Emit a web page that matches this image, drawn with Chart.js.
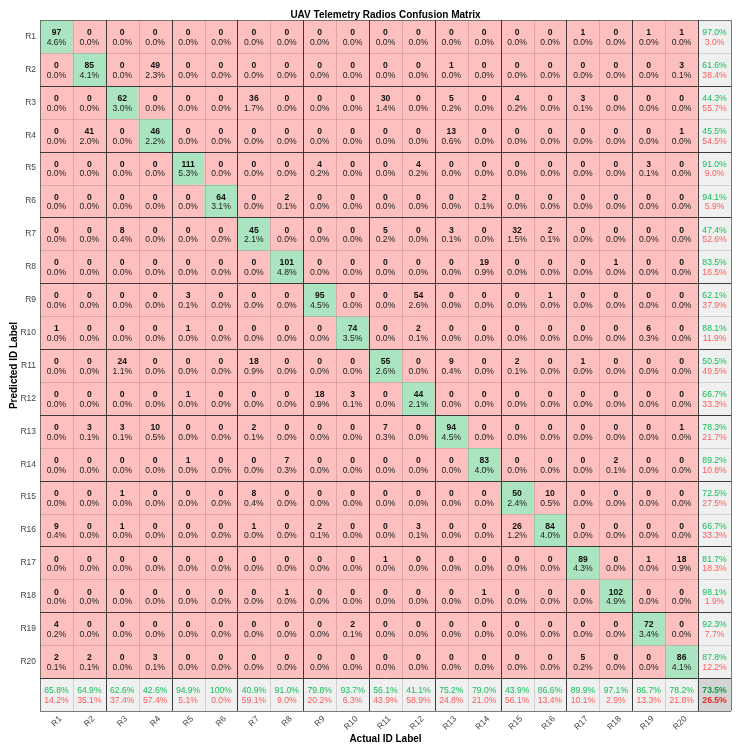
<!DOCTYPE html>
<html>
<head>
<meta charset="utf-8">
<script src="https://cdn.jsdelivr.net/npm/chart.js@4.4.1/dist/chart.umd.min.js"></script>
<style>
html,body{margin:0;padding:0;background:#fff;}
#wrap{width:738px;height:752px;}
</style>
</head>
<body>
<div id="wrap"><canvas id="c" width="738" height="752"></canvas></div>
<script>
// ---- data ----
const titleText = 'UAV Telemetry Radios Confusion Matrix';
const xTitleText = 'Actual ID Label';
const yTitleText = 'Predicted ID Label';
const actualLabels = ['R1','R2','R3','R4','R5','R6','R7','R8','R9','R10','R11','R12','R13','R14','R15','R16','R17','R18','R19','R20'];
const predictedLabels = ['R1','R2','R3','R4','R5','R6','R7','R8','R9','R10','R11','R12','R13','R14','R15','R16','R17','R18','R19','R20'];
// rows = predicted class, columns = actual class
const counts = [
  [97,0,0,0,0,0,0,0,0,0,0,0,0,0,0,0,1,0,1,1],
  [0,85,0,49,0,0,0,0,0,0,0,0,1,0,0,0,0,0,0,3],
  [0,0,62,0,0,0,36,0,0,0,30,0,5,0,4,0,3,0,0,0],
  [0,41,0,46,0,0,0,0,0,0,0,0,13,0,0,0,0,0,0,1],
  [0,0,0,0,111,0,0,0,4,0,0,4,0,0,0,0,0,0,3,0],
  [0,0,0,0,0,64,0,2,0,0,0,0,0,2,0,0,0,0,0,0],
  [0,0,8,0,0,0,45,0,0,0,5,0,3,0,32,2,0,0,0,0],
  [0,0,0,0,0,0,0,101,0,0,0,0,0,19,0,0,0,1,0,0],
  [0,0,0,0,3,0,0,0,95,0,0,54,0,0,0,1,0,0,0,0],
  [1,0,0,0,1,0,0,0,0,74,0,2,0,0,0,0,0,0,6,0],
  [0,0,24,0,0,0,18,0,0,0,55,0,9,0,2,0,1,0,0,0],
  [0,0,0,0,1,0,0,0,18,3,0,44,0,0,0,0,0,0,0,0],
  [0,3,3,10,0,0,2,0,0,0,7,0,94,0,0,0,0,0,0,1],
  [0,0,0,0,1,0,0,7,0,0,0,0,0,83,0,0,0,2,0,0],
  [0,0,1,0,0,0,8,0,0,0,0,0,0,0,50,10,0,0,0,0],
  [9,0,1,0,0,0,1,0,2,0,0,3,0,0,26,84,0,0,0,0],
  [0,0,0,0,0,0,0,0,0,0,1,0,0,0,0,0,89,0,1,18],
  [0,0,0,0,0,0,0,1,0,0,0,0,0,1,0,0,0,102,0,0],
  [4,0,0,0,0,0,0,0,0,2,0,0,0,0,0,0,0,0,72,0],
  [2,2,0,3,0,0,0,0,0,0,0,0,0,0,0,0,5,0,0,86]
];

// ---- styling ----
const FONT = '"Liberation Sans", Arial, Helvetica, sans-serif';
const C_GREEN = '#abe4c0';
const C_RED = '#fdc0bf';
const C_GREY = '#f0f0f0';
const C_CORNER = '#d4d4d4';
const T_GREEN = '#14c058';
const T_RED = '#ff5a5a';

const N = actualLabels.length;
const total = counts.reduce((s, row) => s + row.reduce((a, b) => a + b, 0), 0);
const rowTot = counts.map(row => row.reduce((a, b) => a + b, 0));
const colTot = actualLabels.map((_, c) => counts.reduce((s, row) => s + row[c], 0));
const diagTot = counts.reduce((s, row, i) => s + row[i], 0);

function fmtPct(v) {
  if (Math.abs(v - 100) < 1e-9) return '100%';
  return v.toFixed(1) + '%';
}
function cellColor(r, c) {
  if (r < N && c < N) return r === c ? C_GREEN : C_RED;
  if (r === N && c === N) return C_CORNER;
  return C_GREY;
}

Chart.defaults.font.family = FONT;

const datasets = [];
for (let r = 0; r <= N; r++) {
  const data = [];
  for (let c = 0; c <= N; c++) data.push([r + 0.5, r + 1.5]);
  datasets.push({
    label: r < N ? predictedLabels[r] : 'Summary',
    data,
    grouped: false,
    barPercentage: 1,
    categoryPercentage: 1,
    borderWidth: 0,
    backgroundColor: ctx => cellColor(ctx.datasetIndex, ctx.dataIndex)
  });
}

const cellText = {
  id: 'cellText',
  afterDatasetsDraw(chart) {
    const {ctx, scales: {x: xs, y: ys}} = chart;
    const cw = xs.getPixelForValue(1) - xs.getPixelForValue(0);
    const x0 = xs.getPixelForValue(0) - cw / 2;
    const xEdge = k => x0 + k * cw;
    const yEdge = k => ys.getPixelForValue(k + 0.5);
    ctx.save();
    // grid lines
    const top = yEdge(0), bot = yEdge(N + 1), left = xEdge(0), right = xEdge(N + 1);
    for (let k = 0; k <= N + 1; k++) {
      let col;
      if (k === 0 || k === N + 1) col = 'rgba(90,90,90,0.8)';
      else if (k % 2 === 0) col = 'rgba(40,40,40,0.9)';
      else col = 'rgba(0,0,0,0.13)';
      ctx.strokeStyle = col;
      ctx.lineWidth = 1;
      const xx = Math.round(xEdge(k)) + 0.5;
      ctx.beginPath(); ctx.moveTo(xx, top); ctx.lineTo(xx, bot); ctx.stroke();
      const yy = Math.round(yEdge(k)) + 0.5;
      ctx.beginPath(); ctx.moveTo(left, yy); ctx.lineTo(right, yy); ctx.stroke();
    }
    ctx.textAlign = 'center';
    ctx.textBaseline = 'alphabetic';
    for (let r = 0; r <= N; r++) {
      const cy = ys.getPixelForValue(r + 1);
      for (let c = 0; c <= N; c++) {
        const cx = xs.getPixelForValue(c);
        if (r < N && c < N) {
          const v = counts[r][c];
          ctx.fillStyle = '#111';
          ctx.font = 'bold 8.6px ' + FONT;
          ctx.fillText(String(v), cx, cy - 1.3);
          ctx.fillStyle = '#222';
          ctx.font = '8.6px ' + FONT;
          ctx.fillText((v / total * 100).toFixed(1) + '%', cx, cy + 8.4);
        } else {
          let good, all;
          if (r === N && c === N) { good = diagTot; all = total; }
          else if (r === N) { good = counts[c][c]; all = colTot[c]; }
          else { good = counts[r][r]; all = rowTot[r]; }
          const p = all ? good / all * 100 : 0;
          const corner = (r === N && c === N);
          ctx.font = (corner ? 'bold ' : '') + '8.6px ' + FONT;
          ctx.fillStyle = corner ? '#0d9a42' : T_GREEN;
          ctx.fillText(fmtPct(p), cx, cy - 1.3);
          ctx.fillStyle = corner ? '#e02828' : T_RED;
          ctx.fillText(fmtPct(100 - p), cx, cy + 8.4);
        }
      }
    }
    ctx.restore();
  }
};

new Chart(document.getElementById('c'), {
  type: 'bar',
  data: { labels: actualLabels.concat(['']), datasets },
  options: {
    responsive: false,
    animation: false,
    layout: { padding: { left: 0, right: 7, top: 0, bottom: 0 } },
    plugins: {
      legend: { display: false },
      tooltip: { enabled: false },
      title: {
        display: true,
        text: titleText,
        fullSize: false,
        color: '#000',
        font: { size: 10, weight: 'bold', family: FONT, lineHeight: 1 },
        padding: { top: 10, bottom: 0 }
      }
    },
    scales: {
      x: {
        type: 'category',
        offset: true,
        grid: { display: false, drawTicks: false },
        border: { display: false },
        ticks: {
          autoSkip: false,
          maxRotation: 45,
          minRotation: 45,
          padding: 3,
          labelOffset: 4,
          color: '#444',
          font: { size: 8.5, family: FONT }
        },
        title: {
          display: true,
          text: xTitleText,
          color: '#000',
          font: { size: 10, weight: 'bold', family: FONT, lineHeight: 1.2 },
          padding: { top: 0, bottom: 7 }
        },
        afterFit: s => { s.height = 41; }
      },
      y: {
        type: 'linear',
        min: 0.5,
        max: N + 1.5,
        reverse: true,
        grid: { display: false, drawTicks: false },
        border: { display: false },
        afterBuildTicks: s => { s.ticks = predictedLabels.map((_, i) => ({ value: i + 1 })); },
        ticks: {
          padding: 4,
          color: '#444',
          font: { size: 8.5, family: FONT },
          callback: v => predictedLabels[v - 1] || ''
        },
        title: {
          display: true,
          text: yTitleText,
          color: '#000',
          font: { size: 10, weight: 'bold', family: FONT, lineHeight: 1.2 },
          padding: { top: 8, bottom: 0 }
        },
        afterFit: s => { s.width = 40; }
      }
    }
  },
  plugins: [cellText]
});
</script>
</body>
</html>
